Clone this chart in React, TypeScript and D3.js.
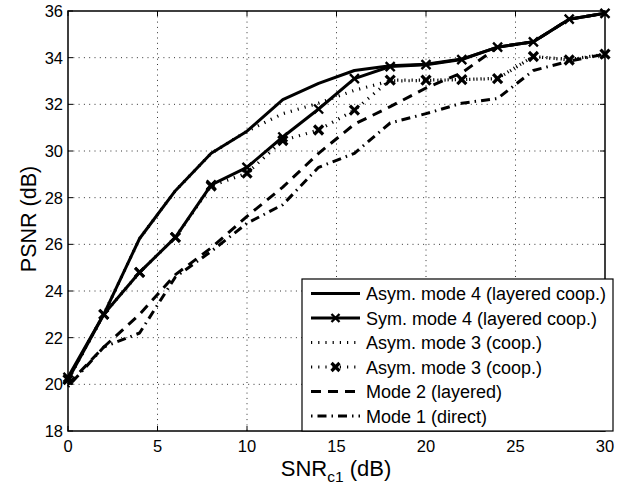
import * as d3 from 'd3';

const snr = [0, 2, 4, 6, 8, 10, 12, 14, 16, 18, 20, 22, 24, 26, 28, 30];
const asymMode4 = [20.2, 23.0, 26.25, 28.3, 29.9, 30.85, 32.2, 32.9, 33.45, 33.65, 33.72, 33.94, 34.45, 34.68, 35.65, 35.9];
const symMode4 = [20.3, 23.0, 24.8, 26.3, 28.55, 29.3, 30.6, 31.8, 33.1, 33.62, 33.7, 33.92, 34.45, 34.68, 35.65, 35.9];
const asymMode3 = [20.2, 23.0, 26.25, 28.3, 29.9, 30.85, 31.6, 32.05, 32.6, 33.0, 33.02, 33.06, 33.12, 34.05, 33.92, 34.15];
const asymMode3Marked = [20.2, 23.0, 24.8, 26.3, 28.5, 29.05, 30.45, 30.9, 31.75, 33.04, 33.04, 33.06, 33.1, 34.05, 33.9, 34.15];
const mode2 = [20.0, 21.6, 23.0, 24.7, 25.85, 27.2, 28.45, 29.9, 31.15, 31.9, 32.7, 33.35, 34.45, 34.68, 35.65, 35.9];
const mode1 = [19.9, 21.6, 22.2, 24.6, 25.7, 26.9, 27.7, 29.3, 29.9, 31.2, 31.6, 32.05, 32.25, 33.45, 33.85, 34.15];

const xTicks = [0, 5, 10, 15, 20, 25, 30];
const yTicks = [18, 20, 22, 24, 26, 28, 30, 32, 34, 36];

const series = [
  { label: 'Asym. mode 4 (layered coop.)', values: asymMode4, dash: 'none', marker: false },
  { label: 'Sym. mode 4 (layered coop.)', values: symMode4, dash: 'none', marker: true },
  { label: 'Asym. mode 3 (coop.)', values: asymMode3, dash: '1.2,6', marker: false },
  { label: 'Asym. mode 3 (coop.)', values: asymMode3Marked, dash: '1.2,6', marker: true },
  { label: 'Mode 2 (layered)', values: mode2, dash: '10,7', marker: false },
  { label: 'Mode 1 (direct)', values: mode1, dash: '1.5,5,9,5', marker: false },
];

const W = 623;
const H = 485;
const left = 68, right = 605, top = 11, bottom = 431;
const font = '"Liberation Sans", Arial, Helvetica, sans-serif';

function Cross({ x, y, r = 4.5, w = 2.6 }: { x: number; y: number; r?: number; w?: number }) {
  return (
    <path
      d={`M${x - r},${y - r}L${x + r},${y + r}M${x - r},${y + r}L${x + r},${y - r}`}
      stroke="#000"
      strokeWidth={w}
      fill="none"
    />
  );
}

export default function App() {
  const x = d3.scaleLinear().domain([0, 30]).range([left, right]);
  const y = d3.scaleLinear().domain([18, 36]).range([bottom, top]);
  const line = d3
    .line<number>()
    .x((_, i) => x(snr[i]))
    .y((d) => y(d));

  const legX = 302, legY = 279, legW = 311, legH = 152;
  const rowH = 24.5;

  return (
    <div style={{ position: 'absolute', left: 0, top: 0 }}>
      <svg width={W} height={H} style={{ display: 'block', background: '#fff' }} fontFamily={font}>
        <rect x={0} y={0} width={W} height={H} fill="#fff" />
        {/* grid */}
        {xTicks.slice(1, -1).map((t) => (
          <line key={'gx' + t} x1={x(t)} x2={x(t)} y1={top} y2={bottom} stroke="#333" strokeWidth={1} strokeDasharray="1,4.3" />
        ))}
        {yTicks.slice(1, -1).map((t) => (
          <line key={'gy' + t} x1={left} x2={right} y1={y(t)} y2={y(t)} stroke="#333" strokeWidth={1} strokeDasharray="1,4.3" />
        ))}
        {/* series */}
        {series.map((s, i) => (
          <g key={'s' + i}>
            <path
              d={line(s.values) || ''}
              fill="none"
              stroke="#000"
              strokeWidth={s.dash.startsWith('1.2') ? 3.2 : 3}
              strokeDasharray={s.dash}
              strokeLinejoin="round"
            />
            {s.marker &&
              s.values.map((v, j) => <Cross key={j} x={x(snr[j])} y={y(v)} r={4.5} w={i === 3 ? 3.2 : 2.4} />)}
          </g>
        ))}
        {/* axes box */}
        <rect x={left} y={top} width={right - left} height={bottom - top} fill="none" stroke="#000" strokeWidth={1.5} />
        {xTicks.map((t) => (
          <g key={'tx' + t}>
            <line x1={x(t)} x2={x(t)} y1={bottom} y2={bottom - 5} stroke="#000" />
            <line x1={x(t)} x2={x(t)} y1={top} y2={top + 5} stroke="#000" />
            <text x={x(t)} y={452} textAnchor="middle" fontSize={16.5}>
              {t}
            </text>
          </g>
        ))}
        {yTicks.map((t) => (
          <g key={'ty' + t}>
            <line x1={left} x2={left + 5} y1={y(t)} y2={y(t)} stroke="#000" />
            <line x1={right} x2={right - 5} y1={y(t)} y2={y(t)} stroke="#000" />
            <text x={63} y={y(t) + 6} textAnchor="end" fontSize={16.5}>
              {t}
            </text>
          </g>
        ))}
        {/* axis labels */}
        <text x={336} y={476} textAnchor="middle" fontSize={22}>
          SNR
          <tspan fontSize={15.5} dy={6}>c1</tspan>
          <tspan dy={-6}> (dB)</tspan>
        </text>
        <text transform={`translate(36,219) rotate(-90)`} textAnchor="middle" fontSize={21.5}>
          PSNR (dB)
        </text>
        {/* legend */}
        <rect x={legX} y={legY} width={legW} height={legH} fill="#fff" stroke="#000" strokeWidth={1.2} />
        {series.map((s, i) => {
          const cy = legY + 14.5 + i * rowH;
          return (
            <g key={'l' + i}>
              <line x1={311} x2={360} y1={cy} y2={cy} stroke="#000" strokeWidth={3} strokeDasharray={s.dash} />
              {s.marker && <Cross x={335.5} y={cy} r={4} w={i === 3 ? 3.2 : 2.4} />}
              <text x={366} y={cy + 6.5} fontSize={18}>
                {s.label}
              </text>
            </g>
          );
        })}
      </svg>
    </div>
  );
}
